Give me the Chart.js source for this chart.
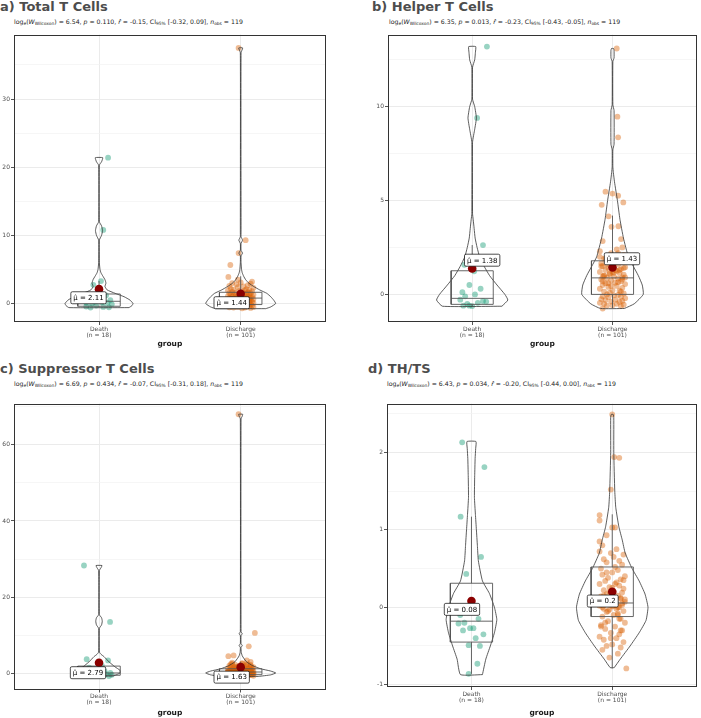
<!DOCTYPE html>
<html>
<head>
<meta charset="utf-8">
<script src="https://cdn.jsdelivr.net/npm/chart.js@4.4.1/dist/chart.umd.min.js"></script>
<style>
  html, body { margin: 0; padding: 0; background: #fff; }
  body { width: 701px; height: 718px; position: relative; overflow: hidden; font-family: 'DejaVu Sans', Verdana, sans-serif; }
  .title { position: absolute; font-weight: bold; font-size: 13px; line-height: 13px; color: #4d4d4d; white-space: nowrap; }
  .sub { position: absolute; font-size: 6.2px; line-height: 7px; color: #222; white-space: nowrap; }
  .sub sub { font-size: 4.4px; vertical-align: -1.4px; line-height: 0; }
  canvas { position: absolute; }
</style>
</head>
<body>
<div class="title" style="left:0;top:0">a) Total T Cells</div>
<div class="sub" style="left:14px;top:18px">log<sub>e</sub>(<i>W</i><sub>Wilcoxon</sub>) = 6.54, <i>p</i> = 0.110, <i>r&#770;</i> = -0.15, CI<sub>95%</sub> [-0.32, 0.09], <i>n</i><sub>obs</sub> = 119</div>
<div class="title" style="left:372px;top:0">b) Helper T Cells</div>
<div class="sub" style="left:389px;top:18px">log<sub>e</sub>(<i>W</i><sub>Wilcoxon</sub>) = 6.35, <i>p</i> = 0.013, <i>r&#770;</i> = -0.23, CI<sub>95%</sub> [-0.43, -0.05], <i>n</i><sub>obs</sub> = 119</div>
<div class="title" style="left:0;top:362px">c) Suppressor T Cells</div>
<div class="sub" style="left:14px;top:380px">log<sub>e</sub>(<i>W</i><sub>Wilcoxon</sub>) = 6.69, <i>p</i> = 0.434, <i>r&#770;</i> = -0.07, CI<sub>95%</sub> [-0.31, 0.18], <i>n</i><sub>obs</sub> = 119</div>
<div class="title" style="left:368px;top:362px">d) TH/TS</div>
<div class="sub" style="left:387px;top:380px">log<sub>e</sub>(<i>W</i><sub>Wilcoxon</sub>) = 6.43, <i>p</i> = 0.034, <i>r&#770;</i> = -0.20, CI<sub>95%</sub> [-0.44, 0.00], <i>n</i><sub>obs</sub> = 119</div>

<canvas id="chartA" width="330" height="320" style="left:0;top:30px"></canvas>
<canvas id="chartB" width="327" height="320" style="left:374px;top:30px"></canvas>
<canvas id="chartC" width="330" height="319" style="left:0;top:399px"></canvas>
<canvas id="chartD" width="328" height="319" style="left:373px;top:399px"></canvas>

<script>
// группы
const groups = ['Death', 'Discharge'];
const groupN = [18, 101];

// общий джиттер точек группы Discharge (в долях категории)
const dischargeJitter = [
  0.02, -0.06, 0.08, -0.03, 0.05, -0.09, 0.01, 0.07, -0.05, 0.03, -0.08, 0.09, -0.02, 0.04, -0.07, 0.06, -0.04, 0.0, 0.08, -0.06,
  0.03, -0.09, 0.05, -0.01, 0.07, -0.05, 0.02, -0.08, 0.09, -0.03, 0.06, -0.07, 0.01, 0.04, -0.04, 0.08, -0.02, -0.06, 0.05, 0.0,
  -0.09, 0.07, -0.03, 0.03, -0.07, 0.09, -0.05, 0.02, 0.06, -0.01, -0.08, 0.04, -0.04, 0.07, 0.01, -0.06, 0.08, -0.02, 0.05, -0.09,
  0.03, -0.05, 0.06, -0.03, 0.09, -0.07, 0.0, 0.04, -0.08, 0.02, 0.07, -0.04, 0.05, -0.06, 0.01, 0.08, -0.01, -0.09, 0.03, 0.06,
  -0.05, 0.04, -0.07, 0.09, -0.02, 0.02, -0.08, 0.05, -0.03, 0.07, -0.06, 0.0, 0.08, -0.04, 0.03, -0.09, 0.06, -0.01, 0.04, -0.07, 0.01
];

// ---------- a) Total T Cells ----------
const totalDeath = [21.4, 10.8, 3.3, 2.75, 1.2, 0.8, 0.5, 0.3, 0.2, 0.1, 0.1, 0.0, -0.1, -0.3, -0.45, -0.5, -0.55, -0.6];
const totalDeathJitter = [0.064, 0.03, 0.014, -0.04, 0.05, -0.07, 0.08, -0.03, 0.02, -0.09, 0.06, -0.05, 0.09, -0.02, -0.09, 0.03, 0.07, -0.06];
const totalDischarge = [37.5, 9.3, 7.4, 5.65, 3.9, 3.5,
  -0.7, -0.65, -0.6, -0.6, -0.55, -0.5, -0.5, -0.45, -0.4, -0.4, -0.35, -0.3, -0.3, -0.25, -0.2, -0.2, -0.15, -0.1, -0.1, -0.05,
  0, 0.05, 0.1, 0.1, 0.15, 0.2, 0.2, 0.25, 0.3, 0.3, 0.35, 0.4, 0.4, 0.45, 0.5, 0.5, 0.55, 0.6, 0.6, 0.65,
  0.7, 0.7, 0.75, 0.8, 0.8, 0.85, 0.9, 0.9, 0.95, 1.0, 1.0, 1.05, 1.1, 1.1, 1.15, 1.2, 1.25, 1.3, 1.3, 1.35,
  1.4, 1.45, 1.5, 1.5, 1.55, 1.6, 1.65, 1.7, 1.75, 1.8, 1.85, 1.9, 1.95, 2.0, 2.05, 2.1, 2.2, 2.3, 2.4, 2.5,
  2.6, 2.7, 2.8, 2.9, 3.0, 3.1, 3.2, 0.0, 0.3, -0.3, 0.5, 1.0, 0.8, 0.2, 0.6];
const totalDischargeLead = [-0.015, 0.035, -0.015, -0.073, -0.087, -0.02];
// [нижний ус, Q1, медиана, Q3, верхний ус]
const totalBoxDeath = [-0.6, -0.4, 0.33, 1.4, 3.3];
const totalBoxDischarge = [-0.75, -0.15, 0.8, 1.65, 4.0];
const totalMeans = [2.11, 1.44];
const totalViolinDeathY = [-0.6, -0.3, 0, 0.5, 1.0, 1.5, 2.0, 2.5, 3.0, 3.5, 4.0, 4.5, 5.0, 6.0, 9.3, 10.0, 10.7, 11.4, 12.0, 20.3, 20.8, 21.4];
const totalViolinDeathW = [0.212, 0.233, 0.240, 0.219, 0.177, 0.113, 0.057, 0.042, 0.049, 0.042, 0.028, 0.014, 0.007, 0.0025, 0.0025, 0.018, 0.025, 0.018, 0.0025, 0.0025, 0.018, 0.026];
const totalViolinDischargeY = [-0.75, -0.5, 0, 0.5, 1.0, 1.5, 2.0, 2.5, 3.0, 3.5, 4.0, 4.5, 5.0, 6.0, 7.0, 7.4, 7.8, 8.8, 9.3, 9.8, 10.5, 36.8, 37.5];
const totalViolinDischargeW = [0.177, 0.212, 0.247, 0.233, 0.212, 0.184, 0.134, 0.092, 0.057, 0.035, 0.021, 0.011, 0.006, 0.0025, 0.0025, 0.013, 0.0025, 0.0025, 0.013, 0.0025, 0.0025, 0.0025, 0.014];
const totalTicks = [0, 5, 10, 15, 20, 25, 30, 35];
const totalTickLabels = [0, 10, 20, 30];
const totalRange = [-2.71, 39.46];

// ---------- b) Helper T Cells ----------
const helperDeath = [13.2, 9.4, 2.63, 1.58, 1.23, 0.12, 0.0, -0.28, -0.35, -0.38, -0.6, -0.6, -0.62, -0.5, -0.45, -0.1, 0.3, 0.5];
const helperDeathJitter = [0.105, 0.035, 0.077, -0.056, 0.014, -0.07, 0.02, -0.085, 0.077, 0.1, -0.063, -0.02, 0.0, -0.035, 0.04, -0.05, 0.06, -0.02];
const helperDischarge = [13.1, 9.47, 8.37, 5.47, 5.37, 5.26, 4.9, 4.77, 4.16, 3.63, 3.6, 2.95, 2.84, 2.5,
  -0.75, -0.62, -0.6, -0.58, -0.55, -0.5, -0.5, -0.45, -0.4, -0.38, -0.35, -0.3, -0.28, -0.25, -0.2, -0.15, -0.12, -0.1, -0.05, -0.02,
  0.0, 0.05, 0.1, 0.15, 0.2, 0.22, 0.3, 0.35, 0.4, 0.45, 0.5, 0.55, 0.6, 0.62, 0.7, 0.75, 0.8, 0.85, 0.88, 0.9,
  0.95, 1.0, 1.05, 1.1, 1.15, 1.2, 1.25, 1.3, 1.35, 1.4, 1.45, 1.5, 1.55, 1.6, 1.65, 1.7, 1.75, 1.8, 1.85, 1.9,
  2.0, 2.1, 2.2, 2.3, 2.4, 1.7, 1.9, 2.2, 0.7, 0.9, 1.1, 1.3, 1.5, 1.3, 0.6, 0.8, 1.0, 1.2, 1.4, 1.6, 1.8, 2.0, 0.15, 0.45, 0.65, 0.95, 1.15];
const helperDischargeLead = [0.03, 0.035, 0.04, -0.05, 0.0, 0.04, 0.077, -0.077, -0.028, 0.042, -0.007, 0.061, -0.07, 0.07];
const helperBoxDeath = [-0.62, -0.53, -0.21, 1.26, 2.63];
const helperBoxDischarge = [-0.75, 0.0, 0.88, 1.79, 4.2];
const helperMeans = [1.38, 1.43];
const helperViolinDeathY = [-0.63, -0.3, 0, 0.5, 1.0, 1.5, 2.0, 2.5, 3.0, 3.5, 4.0, 4.3, 8.1, 8.8, 9.4, 10.0, 10.4, 12.1, 12.5, 12.9, 13.2];
const helperViolinDeathW = [0.212, 0.254, 0.233, 0.177, 0.124, 0.085, 0.053, 0.035, 0.021, 0.014, 0.007, 0.0025, 0.0025, 0.018, 0.030, 0.018, 0.0025, 0.0025, 0.018, 0.023, 0.025];
const helperViolinDischargeY = [-0.75, -0.5, 0, 0.5, 1.0, 1.5, 2.0, 3.0, 4.0, 5.0, 6.0, 6.5, 6.8, 7.7, 8.0, 9.8, 10.1, 12.4, 12.6, 13.0, 13.1];
const helperViolinDischargeW = [0.085, 0.155, 0.219, 0.212, 0.184, 0.148, 0.113, 0.078, 0.053, 0.035, 0.014, 0.006, 0.0025, 0.0025, 0.011, 0.011, 0.0025, 0.0025, 0.011, 0.011, 0.007];
const helperTicks = [0, 2.5, 5, 7.5, 10, 12.5];
const helperTickLabels = [0, 5, 10];
const helperRange = [-1.47, 13.84];

// ---------- c) Suppressor T Cells ----------
const suppDeath = [28.3, 13.5, 3.7, 3.4, -0.7, -0.6, -0.5, -0.45, -0.4, -0.3, -0.2, -0.1, 0.0, 0.1, 0.3, 0.6, 1.5, 2.0];
const suppDeathJitter = [-0.106, 0.078, -0.087, 0.064, 0.07, -0.05, 0.03, -0.08, 0.09, -0.02, 0.05, -0.06, 0.01, 0.08, -0.04, 0.04, -0.07, 0.02];
const suppDischarge = [68.0, 10.6, 7.1, 4.7, 4.5, 3.4, 3.0, 2.8,
  -0.8, -0.75, -0.7, -0.65, -0.6, -0.55, -0.5, -0.5, -0.45, -0.4, -0.4, -0.35, -0.35, -0.3, -0.3, -0.25, -0.2, -0.2, -0.15, -0.1,
  -0.05, 0, 0.05, 0.1, 0.1, 0.15, 0.2, 0.2, 0.25, 0.3, 0.3, 0.35, 0.35, 0.4, 0.4, 0.45, 0.5, 0.5, 0.55, 0.6,
  0.65, 0.7, 0.75, 0.8, 0.85, 0.9, 0.95, 1.0, 1.05, 1.1, 1.15, 1.2, 1.25, 1.3, 1.4, 1.5, 1.6, 1.7, 1.8, 1.9,
  2.0, 2.1, 2.2, 2.3, 2.4, 2.5, 2.6, 0.0, 0.2, 0.4, -0.2, -0.4, 0.6, 0.8, 1.0, 0.1, 0.3, 0.5, -0.1, -0.3,
  1.6, 1.9, 1.1, 1.3, 1.5, 1.7, 0.15, 0.35, 0.55, 2.0, 2.2, 2.4, 2.6];
const suppDischargeLead = [-0.015, 0.1, 0.057, -0.05, -0.087, 0.043, 0.07, -0.06];
const suppBoxDeath = [-0.7, -0.5, 0.1, 1.9, 3.7];
const suppBoxDischarge = [-0.8, -0.35, 0.35, 1.2, 3.0];
const suppMeans = [2.79, 1.63];
const suppViolinDeathY = [-0.7, -0.3, 0.1, 0.8, 1.7, 3.0, 4.4, 5.0, 5.6, 11.8, 12.7, 13.7, 14.6, 15.4, 27.0, 27.7, 28.3];
const suppViolinDeathW = [0.099, 0.127, 0.148, 0.148, 0.113, 0.071, 0.035, 0.014, 0.0025, 0.0025, 0.018, 0.023, 0.018, 0.0025, 0.0025, 0.014, 0.021];
const suppViolinDischargeY = [-0.8, -0.4, 0.1, 0.6, 1.2, 2.0, 3.0, 4.0, 4.6, 5.5, 6.8, 7.3, 7.8, 9.9, 10.4, 10.9, 66.8, 67.5, 68.0];
const suppViolinDischargeW = [0.127, 0.212, 0.247, 0.212, 0.141, 0.085, 0.042, 0.021, 0.011, 0.004, 0.0025, 0.011, 0.0025, 0.0025, 0.011, 0.0025, 0.0025, 0.011, 0.014];
const suppTicks = [0, 10, 20, 30, 40, 50, 60, 70];
const suppTickLabels = [0, 20, 40, 60];
const suppRange = [-4.24, 70.8];

// ---------- d) TH/TS ----------
const ratioDeath = [2.13, 1.81, 1.17, 0.65, 0.43, -0.21, -0.27, -0.27, -0.15, -0.35, -0.49, -0.5, -0.73, -0.86, -0.1, -0.2, -0.4, -0.3];
const ratioDeathJitter = [-0.066, 0.092, -0.077, 0.068, -0.037, -0.092, -0.01, 0.014, 0.05, 0.085, -0.02, 0.06, 0.042, -0.02, -0.08, -0.05, 0.03, -0.06];
const ratioDischarge = [2.49, 1.94, 1.93, 1.52, 1.19, 1.12, 1.03, 1.03, 0.93, 0.85, 0.8, -0.79,
  -0.65, -0.6, -0.55, -0.52, -0.5, -0.48, -0.45, -0.42, -0.4, -0.38, -0.35, -0.33, -0.3, -0.28, -0.25, -0.23, -0.2, -0.18, -0.15, -0.12,
  -0.1, -0.08, -0.06, -0.05, -0.03, -0.02, 0.0, 0.01, 0.02, 0.03, 0.04, 0.05, 0.06, 0.07, 0.08, 0.1, 0.11, 0.12, 0.14, 0.15,
  0.17, 0.19, 0.2, 0.22, 0.24, 0.26, 0.28, 0.3, 0.32, 0.34, 0.36, 0.38, 0.4, 0.42, 0.45, 0.48, 0.5, 0.52, 0.55, 0.58,
  0.6, 0.62, 0.65, 0.68, 0.7, 0.72, 0.75, -0.3, -0.2, -0.1, 0.0, 0.1, 0.2, 0.3, -0.25, -0.15, -0.05, 0.05, 0.15, 0.25,
  0.35, 0.45, -0.02, 0.08, 0.12, -0.4, 0.0, 0.04, 0.02];
const ratioDischargeLead = [0.0, 0.014, 0.05, -0.01, -0.09, -0.09, 0.0, 0.02, -0.04, -0.09, -0.07, 0.1];
const ratioBoxDeath = [-0.86, -0.45, -0.18, 0.31, 1.17];
const ratioBoxDischarge = [-0.79, -0.12, 0.055, 0.52, 1.2];
const ratioMeans = [0.08, 0.2];
const ratioViolinDeathY = [-0.87, -0.67, -0.5, -0.33, -0.16, 0, 0.18, 0.34, 0.6, 0.8, 1.0, 1.2, 1.42, 1.7, 1.92, 2.05, 2.14];
const ratioViolinDeathW = [0.078, 0.102, 0.134, 0.163, 0.180, 0.163, 0.127, 0.078, 0.049, 0.042, 0.035, 0.028, 0.021, 0.023, 0.026, 0.030, 0.032];
const ratioViolinDischargeY = [-0.78, -0.67, -0.5, -0.33, -0.17, 0, 0.17, 0.34, 0.5, 0.7, 0.87, 1.04, 1.29, 1.5, 2.0, 2.45, 2.49];
const ratioViolinDischargeW = [0.014, 0.057, 0.127, 0.191, 0.240, 0.254, 0.233, 0.191, 0.141, 0.092, 0.071, 0.047, 0.025, 0.018, 0.011, 0.011, 0.007];
const ratioTicks = [-1, -0.5, 0, 0.5, 1, 1.5, 2, 2.5];
const ratioTickLabels = [-1, 0, 1, 2];
const ratioRange = [-1.03, 2.63];

// ---------- построение ----------
const FONT = "'DejaVu Sans', Verdana, sans-serif";
const TEAL = 'rgba(27,158,119,0.45)';
const ORANGE = 'rgba(217,95,2,0.42)';

function violinPath(c, ys, ws) {
  const right = ys.map((y, i) => ({x: c + ws[i], y: y}));
  const left = ys.map((y, i) => ({x: c - ws[i], y: y})).reverse();
  return right.concat(left, [right[0]]);
}

function boxPath(c, s) {
  const h = 0.15;
  const [lo, q1, md, q3, hi] = s;
  return [
    {x: c, y: lo}, {x: c, y: q1}, {x: c, y: null},
    {x: c, y: q3}, {x: c, y: hi}, {x: c, y: null},
    {x: c - h, y: q1}, {x: c + h, y: q1}, {x: c + h, y: q3}, {x: c - h, y: q3}, {x: c - h, y: q1}, {x: c, y: null},
    {x: c - h, y: md}, {x: c + h, y: md}
  ];
}

function jittered(c, vals, jit, lead) {
  return vals.map((v, i) => {
    const j = lead ? (i < lead.length ? lead[i] : dischargeJitter[i % dischargeJitter.length]) : jit[i];
    return {x: c + j, y: v};
  });
}

// рамка панели и подписи среднего
const framePlugin = {
  id: 'frame',
  afterDatasetsDraw(chart, args, opts) {
    const {ctx, chartArea: a} = chart;
    ctx.save();
    ctx.strokeStyle = '#333';
    ctx.lineWidth = 1;
    ctx.strokeRect(Math.round(a.left) + 0.5, Math.round(a.top) + 0.5, Math.round(a.right - a.left) - 1, Math.round(a.bottom - a.top) - 1);

    const xs = chart.scales.x, ys = chart.scales.y;
    ctx.font = '7px ' + FONT;
    ctx.textBaseline = 'middle';
    ctx.textAlign = 'center';
    opts.means.forEach((m, i) => {
      const px = xs.getPixelForValue(i + 1) + opts.offsets[i][0];
      const py = ys.getPixelForValue(m) + opts.offsets[i][1];
      const text = 'μ\u0302 = ' + m;
      const w = ctx.measureText(text).width + 5;
      const h = 12;
      ctx.beginPath();
      ctx.roundRect(px - w / 2, py - h / 2, w, h, 1.5);
      ctx.fillStyle = '#fff';
      ctx.fill();
      ctx.strokeStyle = '#000';
      ctx.lineWidth = 0.7;
      ctx.stroke();
      ctx.fillStyle = '#000';
      ctx.fillText(text, px, py + 0.5);
    });
    ctx.restore();
  }
};

function drawPanel(p) {
  const lineDs = (data, color, width, tension) => ({
    data: data, showLine: true, pointRadius: 0, pointHoverRadius: 0,
    borderColor: color, borderWidth: width, fill: false, tension: tension, spanGaps: false
  });
  new Chart(document.getElementById(p.id), {
    type: 'scatter',
    data: {
      datasets: [
        {data: p.means.map((m, i) => ({x: i + 1, y: m})), pointRadius: 4.3, backgroundColor: '#8b0000', borderWidth: 0},
        lineDs(boxPath(1, p.boxDeath), '#555', 0.9, 0),
        lineDs(boxPath(2, p.boxDischarge), '#555', 0.9, 0),
        lineDs(violinPath(1, p.vDeathY, p.vDeathW), '#333', 0.8, 0.15),
        lineDs(violinPath(2, p.vDischargeY, p.vDischargeW), '#333', 0.8, 0.15),
        {data: jittered(1, p.death, p.deathJitter), pointRadius: 2.9, backgroundColor: TEAL, borderWidth: 0},
        {data: jittered(2, p.discharge, null, p.dischargeLead), pointRadius: 2.9, backgroundColor: ORANGE, borderWidth: 0}
      ]
    },
    options: {
      responsive: false,
      animation: false,
      devicePixelRatio: 1,
      layout: {padding: {top: p.padTop, right: p.padRight, left: 0, bottom: 0}},
      plugins: {
        legend: {display: false},
        tooltip: {enabled: false},
        frame: {means: p.means, offsets: p.offsets}
      },
      scales: {
        x: {
          type: 'linear', min: 0.4, max: 2.6,
          afterBuildTicks: s => { s.ticks = [{value: 1}, {value: 2}]; },
          afterFit: s => { s.height = p.xh; },
          ticks: {
            callback: (v, i) => [groups[i], '(n = ' + groupN[i] + ')'],
            font: {family: FONT, size: 6, lineHeight: 1}, color: '#4d4d4d', padding: 1, maxRotation: 0, autoSkip: false
          },
          grid: {color: '#ebebeb', lineWidth: 1, tickLength: 3, tickColor: '#555'},
          border: {display: false},
          title: {display: true, text: 'group', color: '#1a1a1a', font: {family: FONT, size: 7.5, weight: 'bold', lineHeight: 1.2}, padding: {top: 0, bottom: p.titlePad}}
        },
        y: {
          min: p.range[0], max: p.range[1],
          afterBuildTicks: s => { s.ticks = p.ticks.map(v => ({value: v})); },
          afterFit: s => { s.width = 14; },
          ticks: {
            callback: v => p.tickLabels.includes(v) ? String(v) : '',
            font: {family: FONT, size: 6}, color: '#4d4d4d', padding: 1
          },
          grid: {
            color: c => p.tickLabels.includes(c.tick.value) ? '#ebebeb' : '#f2f2f2',
            lineWidth: c => p.tickLabels.includes(c.tick.value) ? 1 : 0.7,
            tickLength: 3,
            tickColor: c => p.tickLabels.includes(c.tick.value) ? '#555' : 'rgba(0,0,0,0)'
          },
          border: {display: false}
        }
      }
    },
    plugins: [framePlugin]
  });
}

drawPanel({
  id: 'chartA', padTop: 1, padRight: 3, xh: 28, titlePad: 1,
  death: totalDeath, deathJitter: totalDeathJitter, discharge: totalDischarge, dischargeLead: totalDischargeLead,
  boxDeath: totalBoxDeath, boxDischarge: totalBoxDischarge, means: totalMeans,
  vDeathY: totalViolinDeathY, vDeathW: totalViolinDeathW, vDischargeY: totalViolinDischargeY, vDischargeW: totalViolinDischargeW,
  ticks: totalTicks, tickLabels: totalTickLabels, range: totalRange,
  offsets: [[-10.5, 8.6], [-9, 9]]
});
drawPanel({
  id: 'chartB', padTop: 1, padRight: 1, xh: 28, titlePad: 1,
  death: helperDeath, deathJitter: helperDeathJitter, discharge: helperDischarge, dischargeLead: helperDischargeLead,
  boxDeath: helperBoxDeath, boxDischarge: helperBoxDischarge, means: helperMeans,
  vDeathY: helperViolinDeathY, vDeathW: helperViolinDeathW, vDischargeY: helperViolinDischargeY, vDischargeW: helperViolinDischargeW,
  ticks: helperTicks, tickLabels: helperTickLabels, range: helperRange,
  offsets: [[10, -8.3], [9.5, -8.8]]
});
drawPanel({
  id: 'chartC', padTop: 1.5, padRight: 3, xh: 28.5, titlePad: 0,
  death: suppDeath, deathJitter: suppDeathJitter, discharge: suppDischarge, dischargeLead: suppDischargeLead,
  boxDeath: suppBoxDeath, boxDischarge: suppBoxDischarge, means: suppMeans,
  vDeathY: suppViolinDeathY, vDeathW: suppViolinDeathW, vDischargeY: suppViolinDischargeY, vDischargeW: suppViolinDischargeW,
  ticks: suppTicks, tickLabels: suppTickLabels, range: suppRange,
  offsets: [[-11, 10], [-9, 10]]
});
drawPanel({
  id: 'chartD', padTop: 0, padRight: 1, xh: 31, titlePad: 0,
  death: ratioDeath, deathJitter: ratioDeathJitter, discharge: ratioDischarge, dischargeLead: ratioDischargeLead,
  boxDeath: ratioBoxDeath, boxDischarge: ratioBoxDischarge, means: ratioMeans,
  vDeathY: ratioViolinDeathY, vDeathW: ratioViolinDeathW, vDischargeY: ratioViolinDischargeY, vDischargeW: ratioViolinDischargeW,
  ticks: ratioTicks, tickLabels: ratioTickLabels, range: ratioRange,
  offsets: [[-9.5, 8.3], [-9.5, 9.3]]
});
</script>
</body>
</html>
